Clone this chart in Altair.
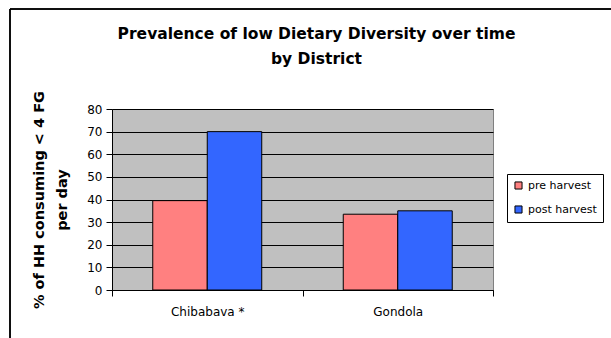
import altair as alt
import pandas as pd

districts = ["Chibabava *", "Gondola"]
periods = ["pre harvest", "post harvest"]
pre_values = [39.5, 33.5]
post_values = [70, 35]
y_ticks = [0, 10, 20, 30, 40, 50, 60, 70, 80]

rows = []
for d, pre, post in zip(districts, pre_values, post_values):
    rows.append({"district": d, "period": periods[0], "value": pre})
    rows.append({"district": d, "period": periods[1], "value": post})
df = pd.DataFrame(rows)

FONT = "DejaVu Sans"

bars = alt.Chart(df).mark_bar(stroke="black", strokeWidth=1).encode(
    x=alt.X("district:N", sort=districts,
            scale=alt.Scale(paddingInner=0, paddingOuter=0),
            axis=alt.Axis(title=None, labelAngle=0, labelFont=FONT, labelFontSize=12,
                          labelColor="black", domainColor="black", tickColor="black",
                          tickBand="extent", tickSize=6, labelPadding=10, grid=False)),
    xOffset=alt.XOffset("period:N", sort=periods,
                        scale=alt.Scale(paddingInner=0, paddingOuter=0.748)),
    y=alt.Y("value:Q", scale=alt.Scale(domain=[0, 80], nice=False),
            axis=alt.Axis(values=y_ticks, title=["% of HH consuming < 4 FG", "per day"],
                          titleFont=FONT, titleFontSize=14.5, titleFontWeight="bold",
                          titleColor="black", titlePadding=17, titleLineHeight=23,
                          labelFont=FONT, labelFontSize=12, labelColor="black",
                          labelPadding=4,
                          domainColor="black", tickColor="black", tickSize=6,
                          gridColor="black", gridOpacity=1, gridWidth=1)),
    color=alt.Color("period:N", sort=periods,
                    scale=alt.Scale(domain=periods, range=["#FF8080", "#3366FF"]),
                    legend=alt.Legend(title=None, orient="none", legendX=395, legendY=65,
                                      labelFont=FONT, labelFontSize=11, labelColor="black",
                                      symbolType="square", symbolSize=50,
                                      symbolStrokeColor="black", symbolStrokeWidth=1,
                                      rowPadding=11, padding=6, strokeColor="black",
                                      fillColor="white", cornerRadius=0)),
)

frame = alt.Chart(df).mark_rect(fill=None, stroke="black", strokeWidth=1).encode(
    x=alt.value(-102), x2=alt.value(560), y=alt.value(-100), y2=alt.value(300)
)

chart = alt.layer(frame, bars).properties(
    width=381,
    height=181,
    title=alt.TitleParams(
        ["Prevalence of low Dietary Diversity over time", "by District"],
        font=FONT, fontSize=15.5, fontWeight="bold", color="black",
        anchor="middle", dx=14, offset=-59, lineHeight=25,
    ),
    padding={"left": 112, "top": 109, "right": 118, "bottom": 48},
    autosize=alt.AutoSizeParams(type="none"),
    background="white",
).configure_view(
    fill="#C0C0C0", stroke="#808080", strokeWidth=1
)

chart.save("out.html", embed_options={"renderer": "svg", "actions": False})
